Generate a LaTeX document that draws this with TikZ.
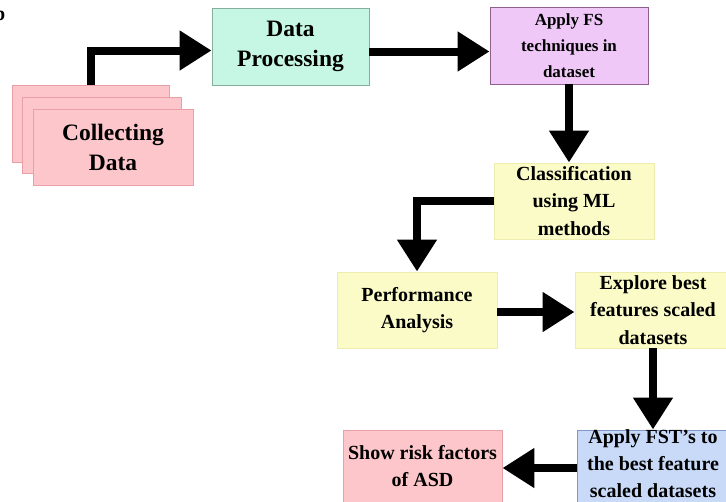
\documentclass[tikz,border=0pt]{standalone}
\usepackage{fontspec}
\setmainfont{Liberation Serif}
\usetikzlibrary{arrows.meta}
\definecolor{pinkF}{HTML}{FCC6CA}
\definecolor{pinkD}{HTML}{E8A0A6}
\definecolor{mintF}{HTML}{C6F7E4}
\definecolor{mintD}{HTML}{86AE9E}
\definecolor{violF}{HTML}{F0C8F8}
\definecolor{violD}{HTML}{8E6090}
\definecolor{yelF}{HTML}{FBFBC8}
\definecolor{yelD}{HTML}{EDEDB0}
\definecolor{bluF}{HTML}{C8DAF8}
\definecolor{bluD}{HTML}{8098C8}
\tikzset{
  box/.style={rectangle, inner sep=0pt, line width=0.9pt, align=center, text=black},
  bigtext/.style={font=\bfseries\fontsize{23.5}{30}\selectfont},
  midtext/.style={font=\bfseries\fontsize{20}{27.5}\selectfont},
  smalltext/.style={font=\bfseries\fontsize{17}{26}\selectfont},
  conn/.style={line width=8pt, line join=miter, draw=black,
    -{Triangle[width=38pt,length=32pt]}}
}
\begin{document}
\begin{tikzpicture}[x=1pt,y=-1pt]
\useasboundingbox (0,0) rectangle (726,501);
\clip (0,0) rectangle (726,501);
\fill[white] (0,0) rectangle (726,501);

\node[font=\bfseries\fontsize{20}{24}\selectfont, anchor=base east, inner sep=0pt] (lbl) at (5.5,20) {b};

\node[box, fill=pinkF, draw=pinkD, minimum width=157pt, minimum height=77pt] (cd1) at (90.5,123.5) {};
\node[box, fill=pinkF, draw=pinkD, minimum width=159pt, minimum height=76pt] (cd2) at (101.5,135) {};
\node[box, bigtext, fill=pinkF, draw=pinkD, minimum width=160pt, minimum height=76pt] (cd3) at (113,147) {Collecting\\Data};

\node[box, bigtext, fill=mintF, draw=mintD, minimum width=157pt, minimum height=77pt] (dp) at (290.5,46.5) {Data\\Processing};
\node[box, smalltext, fill=violF, draw=violD, minimum width=158pt, minimum height=77pt] (fs) at (569,45.5) {Apply FS\\techniques in\\dataset};
\node[box, midtext, fill=yelF, draw=yelD, minimum width=160pt, minimum height=76pt] (cl) at (574,201) {Classification\\using ML\\methods};
\node[box, midtext, fill=yelF, draw=yelD, minimum width=160pt, minimum height=76pt] (pa) at (417,310) {Performance\\Analysis};
\node[box, midtext, fill=yelF, draw=yelD, minimum width=156pt, minimum height=76pt] (ex) at (653,310) {Explore best\\features scaled\\datasets};
\node[box, fill=bluF, draw=bluD, minimum width=154pt, minimum height=72pt] (fst) at (654,466) {};
\node[midtext, align=center, inner sep=0pt, font=\bfseries\fontsize{20}{27}\selectfont] (fsttxt) at (653,463.5) {Apply FST's to\\the best feature\\scaled datasets};
\node[box, midtext, fill=pinkF, draw=pinkD, minimum width=159pt, minimum height=72pt] (sr) at (422.5,466) {Show risk factors\\of ASD};

\draw[conn] (cd1.north) |- ([yshift=-4pt]dp.west);
\draw[conn] ([yshift=-5pt]dp.east) -- ([yshift=-5pt]dp.east -| fs.west);
\draw[conn] (fs.south) -- (fs.south |- cl.north);
\draw[conn] (cl.west) -| (pa.north);
\draw[conn] ([yshift=-2pt]pa.east) -- ([yshift=-2pt]pa.east -| ex.west);
\draw[conn] (ex.south) -- (ex.south |- fst.north);
\draw[conn] ([yshift=-2pt]fst.west) -- ([yshift=-2pt]fst.west -| sr.east);
\end{tikzpicture}
\end{document}
